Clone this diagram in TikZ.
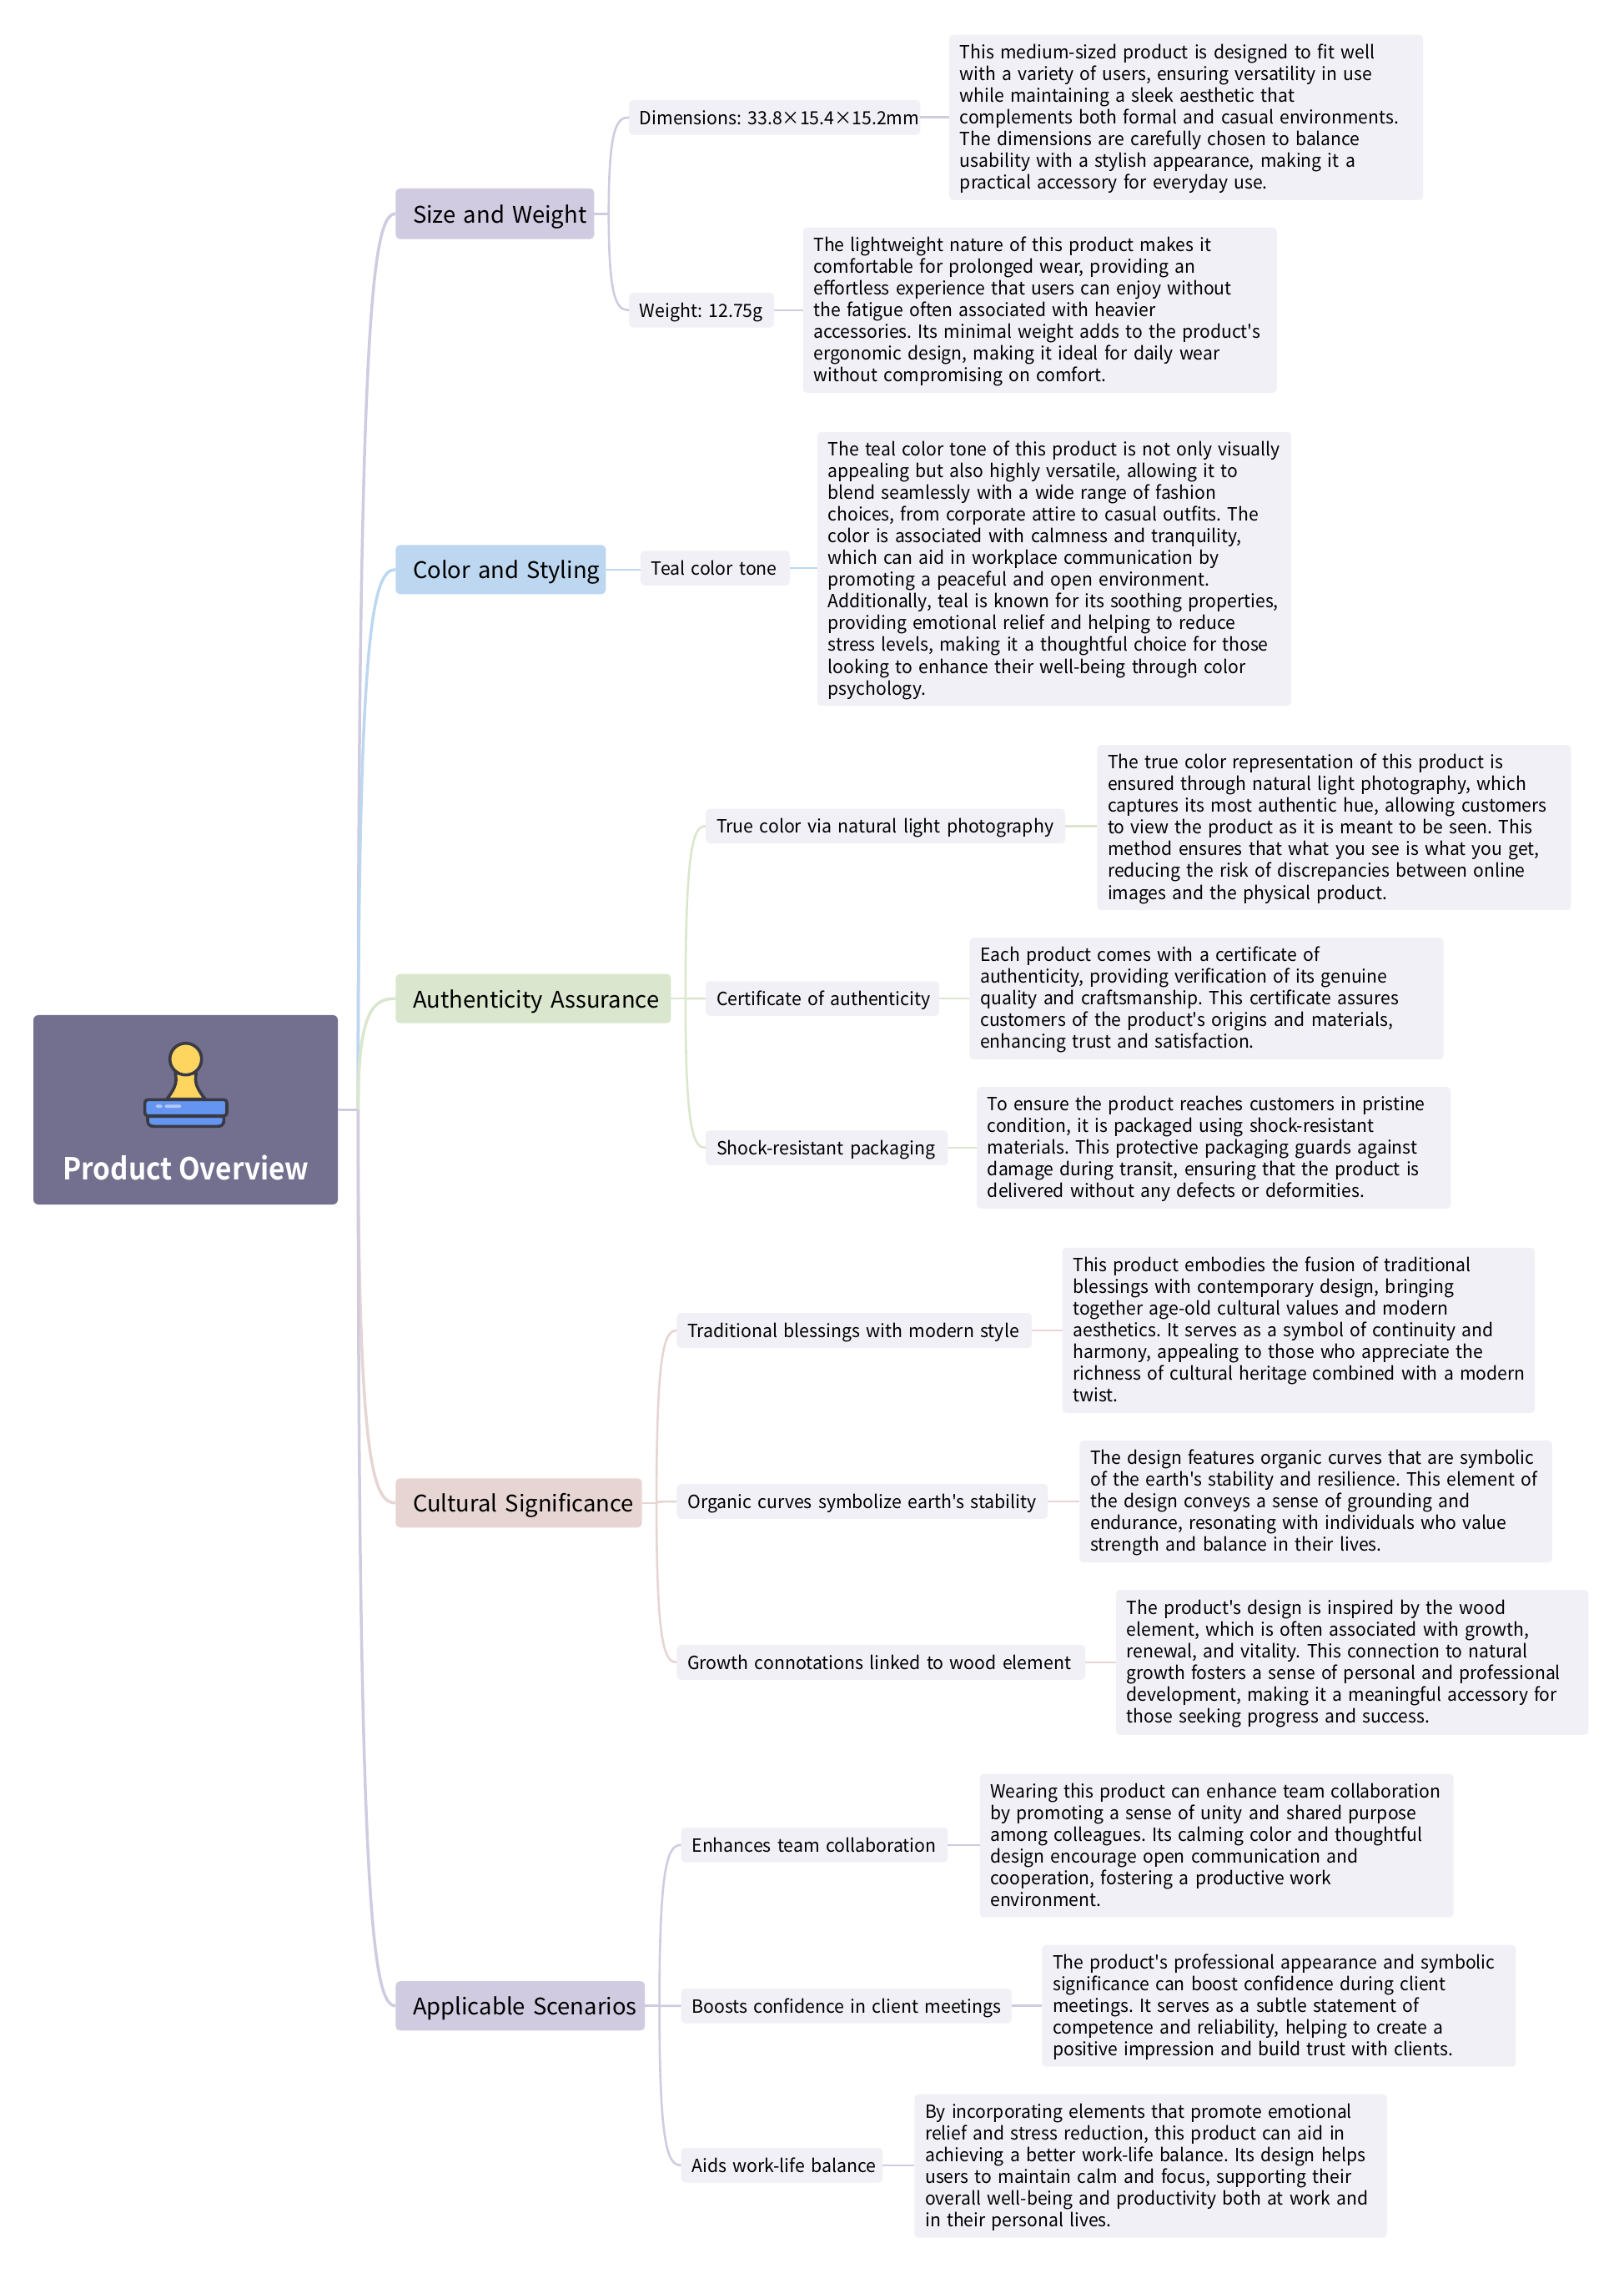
\documentclass[tikz,border=0pt]{standalone}
\usepackage{fontspec}
\usetikzlibrary{calc}
\newfontfamily\nt{Noto Sans CJK SC}
\newfontfamily\ntn[FakeStretch=0.968]{Noto Sans CJK SC}
\newfontfamily\ntt[FakeStretch=0.975]{Noto Sans CJK SC}
\newfontfamily\ntb[FakeStretch=0.915]{Noto Sans CJK SC Bold}
\frenchspacing
\definecolor{rootfill}{HTML}{736F8F}
\definecolor{cPurple}{HTML}{D0CBE1}
\definecolor{cBlue}{HTML}{BDD7F0}
\definecolor{cGreen}{HTML}{DAE6CD}
\definecolor{cRose}{HTML}{E6D5D2}
\definecolor{leaf}{HTML}{F0F0F6}
\definecolor{iconDark}{HTML}{3A3A45}
\definecolor{iconYellow}{HTML}{FDD55F}
\definecolor{iconBlue}{HTML}{6495F0}
\definecolor{iconLight}{HTML}{B5C8F5}
\newcommand\lns[1]{\vbox{\hbox{\vrule height \topx width 0pt}\nointerlineskip\hbox to \linewidth{\begin{tabular}{@{}l@{}}#1\end{tabular}\hss}}}
% name, style, x1,y1,x2,y2, pad, text
\newcommand\bx[8]{%
 \pgfmathsetmacro\cxx{(#3+#5)/2}\pgfmathsetmacro\cyy{(#4+#6)/2}%
 \pgfmathsetmacro\www{(#5-#3)*0.86875}\pgfmathsetmacro\hhh{(#6-#4)*0.86875}%
 \pgfmathsetmacro\ppp{#7*0.86875}\pgfmathsetmacro\ttt{\www-2*\ppp}%
 \node[#2,minimum width=\www pt,minimum height=\hhh pt,text width=\ttt pt,inner xsep=\ppp pt] (#1) at (\cxx,\cyy) {\lns{#8}};}
\tikzset{
 x=0.86875pt,y=-0.86875pt,
 boxbase/.style={rounded corners=2.4pt,inner ysep=0pt,outer sep=0pt,text=black},
 lone/.style={boxbase,fill=#1,font=\nt\fontsize{13.7}{17}\selectfont\def\topx{4.2pt},rounded corners=2.6pt},
 ltwo/.style={boxbase,fill=leaf,font=\ntt\fontsize{10.9}{13.05}\selectfont\def\topx{3.1pt}},
 ldet/.style={boxbase,fill=leaf,font=\ntn\fontsize{10.9}{13.05}\selectfont\def\topx{2.4pt}},
 wire/.style={draw=#1,line width=1.75pt},
 wiretwo/.style={draw=#1,line width=1.3pt},
}
\newcommand\curv[4]{\draw[#4] (#1) .. controls ($(#1|-#2.west)!0.1!(#1)$) and ($(#2.west)!0.6!(#1|-#2.west)$) .. (#2.west);}
\newcommand\hub[3]{\coordinate (#1) at ($(#2.east)+(#3,0)$);}
\begin{document}
\begin{tikzpicture}
\useasboundingbox (0,0) rectangle (1120,1568.35);
\node[fill=rootfill,rounded corners=3pt,minimum width=182.5pt,minimum height=113.5pt,inner sep=0pt,outer sep=0pt] (root) at (128.06,765.75) {};
\node[font=\ntb\fontsize{18.2}{22}\selectfont,text=white,inner sep=0pt] (rootlabel) at (128.3,805.8) {Product Overview};
% icon, in zoomed crop coordinates
\begin{scope}[shift={(0,679.14)},x=0.16667pt,y=-0.16667pt]
 \draw[iconDark,line width=1.8pt,fill=iconYellow,line join=round] (630,320) .. controls (640,355) and (625,380) .. (600,413) -- (738,413) .. controls (712,380) and (697,355) .. (706,320) -- cycle;
 \draw[iconDark,line width=1.8pt,fill=iconYellow] (668,269) circle (57);
 \draw[iconDark,line width=1.8pt,fill=iconBlue] (531,475) -- (531,490) .. controls (531,505) and (540,511) .. (555,511) -- (782,511) .. controls (797,511) and (805,505) .. (805,490) -- (805,475) -- cycle;
 \draw[iconDark,line width=1.8pt,fill=iconBlue,rounded corners=1.8pt] (521,415) rectangle (816,473);
 \fill[iconLight,rounded corners=0.8pt] (560,433) rectangle (584,444);
 \fill[iconLight,rounded corners=0.8pt] (592,433) rectangle (652,444);
\end{scope}
% level 1
\bx{sw}{lone=cPurple}{273}{130}{410}{165}{11.9}{Size and Weight}
\bx{cs}{lone=cBlue}{273}{376}{418}{410}{11.9}{Color and Styling}
\bx{aa}{lone=cGreen}{273}{672}{463}{706}{11.9}{Authenticity Assurance}
\bx{cu}{lone=cRose}{273}{1020}{443}{1054}{11.9}{Cultural Significance}
\bx{as}{lone=cPurple}{273}{1367}{445}{1401}{11.9}{Applicable Scenarios}
% level 2
\bx{dim}{ltwo}{434}{69}{635}{93}{7.4}{Dimensions: 33.8×15.4×15.2mm}
\bx{wei}{ltwo}{434}{202}{534}{226}{7.4}{Weight: 12.75g}
\bx{tea}{ltwo}{442}{380}{545}{404}{7.4}{Teal color tone}
\bx{tru}{ltwo}{487}{558}{735}{582}{7.4}{True color via natural light photography}
\bx{cer}{ltwo}{487}{677}{648}{701}{7.4}{Certificate of authenticity}
\bx{sho}{ltwo}{487}{780}{654}{804}{7.4}{Shock-resistant packaging}
\bx{tra}{ltwo}{467}{906}{712}{930}{7.4}{Traditional blessings with modern style}
\bx{org}{ltwo}{467}{1024}{723}{1048}{7.4}{Organic curves symbolize earth's stability}
\bx{gro}{ltwo}{467}{1135}{749}{1159}{7.4}{Growth connotations linked to wood element}
\bx{enh}{ltwo}{470}{1261}{654}{1285}{7.4}{Enhances team collaboration}
\bx{boo}{ltwo}{470}{1372}{698}{1396}{7.4}{Boosts confidence in client meetings}
\bx{aid}{ltwo}{470}{1482}{609}{1506}{7.4}{Aids work-life balance}
% details
\bx{d1}{ldet}{655}{24}{982}{138}{7.4}{This medium-sized product is designed to fit well\\with a variety of users, ensuring versatility in use\\while maintaining a sleek aesthetic that\\complements both formal and casual environments.\\The dimensions are carefully chosen to balance\\usability with a stylish appearance, making it a\\practical accessory for everyday use.}
\bx{d2}{ldet}{554}{157}{881}{271}{7.4}{The lightweight nature of this product makes it\\comfortable for prolonged wear, providing an\\effortless experience that users can enjoy without\\the fatigue often associated with heavier\\accessories. Its minimal weight adds to the product's\\ergonomic design, making it ideal for daily wear\\without compromising on comfort.}
\bx{d3}{ldet}{564}{298}{891}{487}{7.4}{The teal color tone of this product is not only visually\\appealing but also highly versatile, allowing it to\\blend seamlessly with a wide range of fashion\\choices, from corporate attire to casual outfits. The\\color is associated with calmness and tranquility,\\which can aid in workplace communication by\\promoting a peaceful and open environment.\\Additionally, teal is known for its soothing properties,\\providing emotional relief and helping to reduce\\stress levels, making it a thoughtful choice for those\\looking to enhance their well-being through color\\psychology.}
\bx{d4}{ldet}{757}{514}{1084}{628}{7.4}{The true color representation of this product is\\ensured through natural light photography, which\\captures its most authentic hue, allowing customers\\to view the product as it is meant to be seen. This\\method ensures that what you see is what you get,\\reducing the risk of discrepancies between online\\images and the physical product.}
\bx{d5}{ldet}{669}{647}{996}{731}{7.4}{Each product comes with a certificate of\\authenticity, providing verification of its genuine\\quality and craftsmanship. This certificate assures\\customers of the product's origins and materials,\\enhancing trust and satisfaction.}
\bx{d6}{ldet}{674}{750}{1001}{834}{7.4}{To ensure the product reaches customers in pristine\\condition, it is packaged using shock-resistant\\materials. This protective packaging guards against\\damage during transit, ensuring that the product is\\delivered without any defects or deformities.}
\bx{d7}{ldet}{733}{861}{1059}{975}{7.4}{This product embodies the fusion of traditional\\blessings with contemporary design, bringing\\together age-old cultural values and modern\\aesthetics. It serves as a symbol of continuity and\\harmony, appealing to those who appreciate the\\richness of cultural heritage combined with a modern\\twist.}
\bx{d8}{ldet}{745}{994}{1071}{1078}{7.4}{The design features organic curves that are symbolic\\of the earth's stability and resilience. This element of\\the design conveys a sense of grounding and\\endurance, resonating with individuals who value\\strength and balance in their lives.}
\bx{d9}{ldet}{770}{1097}{1096}{1197}{7.4}{The product's design is inspired by the wood\\element, which is often associated with growth,\\renewal, and vitality. This connection to natural\\growth fosters a sense of personal and professional\\development, making it a meaningful accessory for\\those seeking progress and success.}
\bx{d10}{ldet}{676}{1224}{1003}{1323}{7.4}{Wearing this product can enhance team collaboration\\by promoting a sense of unity and shared purpose\\among colleagues. Its calming color and thoughtful\\design encourage open communication and\\cooperation, fostering a productive work\\environment.}
\bx{d11}{ldet}{719}{1342}{1046}{1426}{7.4}{The product's professional appearance and symbolic\\significance can boost confidence during client\\meetings. It serves as a subtle statement of\\competence and reliability, helping to create a\\positive impression and build trust with clients.}
\bx{d12}{ldet}{631}{1445}{957}{1544}{7.4}{By incorporating elements that promote emotional\\relief and stress reduction, this product can aid in\\achieving a better work-life balance. Its design helps\\users to maintain calm and focus, supporting their\\overall well-being and productivity both at work and\\in their personal lives.}
% connectors
\hub{t0}{root}{14}
\draw[wire=cPurple] (root.east) -- (t0);
\curv{t0}{sw}{}{wire=cPurple}
\curv{t0}{cs}{}{wire=cBlue}
\curv{t0}{aa}{}{wire=cGreen}
\curv{t0}{cu}{}{wire=cRose}
\curv{t0}{as}{}{wire=cPurple}
\hub{t1}{sw}{10}\draw[wiretwo=cPurple] (sw.east) -- (t1);
\curv{t1}{dim}{}{wiretwo=cPurple}\curv{t1}{wei}{}{wiretwo=cPurple}
\draw[wiretwo=cBlue] (cs.east) -- (cs.east-|tea.west);
\hub{t3}{aa}{10}\draw[wiretwo=cGreen] (aa.east) -- (t3);
\curv{t3}{tru}{}{wiretwo=cGreen}\curv{t3}{cer}{}{wiretwo=cGreen}\curv{t3}{sho}{}{wiretwo=cGreen}
\hub{t4}{cu}{10}\draw[wiretwo=cRose] (cu.east) -- (t4);
\curv{t4}{tra}{}{wiretwo=cRose}\curv{t4}{org}{}{wiretwo=cRose}\curv{t4}{gro}{}{wiretwo=cRose}
\hub{t5}{as}{10}\draw[wiretwo=cPurple] (as.east) -- (t5);
\curv{t5}{enh}{}{wiretwo=cPurple}\curv{t5}{boo}{}{wiretwo=cPurple}\curv{t5}{aid}{}{wiretwo=cPurple}
\draw[wiretwo=cPurple] (dim.east) -- (dim.east-|d1.west);
\draw[wiretwo=cPurple] (wei.east) -- (wei.east-|d2.west);
\draw[wiretwo=cBlue] (tea.east) -- (tea.east-|d3.west);
\draw[wiretwo=cGreen] (tru.east) -- (tru.east-|d4.west);
\draw[wiretwo=cGreen] (cer.east) -- (cer.east-|d5.west);
\draw[wiretwo=cGreen] (sho.east) -- (sho.east-|d6.west);
\draw[wiretwo=cRose] (tra.east) -- (tra.east-|d7.west);
\draw[wiretwo=cRose] (org.east) -- (org.east-|d8.west);
\draw[wiretwo=cRose] (gro.east) -- (gro.east-|d9.west);
\draw[wiretwo=cPurple] (enh.east) -- (enh.east-|d10.west);
\draw[wiretwo=cPurple] (boo.east) -- (boo.east-|d11.west);
\draw[wiretwo=cPurple] (aid.east) -- (aid.east-|d12.west);
\end{tikzpicture}
\end{document}
